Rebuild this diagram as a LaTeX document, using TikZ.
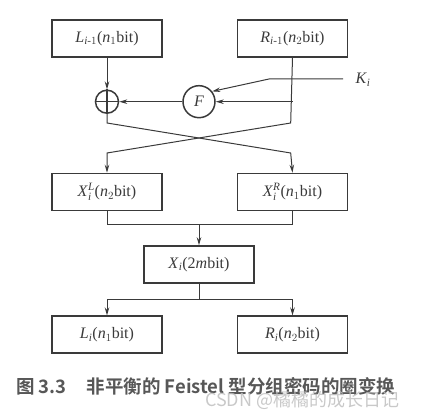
\documentclass[tikz,border=0pt]{standalone}
\usepackage{amsmath}
\usepackage{fontspec}
\setmainfont{Liberation Serif}
\newfontfamily\cjk{Noto Sans CJK SC}[BoldFont={Noto Sans CJK SC Bold}]
\usepackage{tikz}
\usetikzlibrary{arrows.meta, positioning, calc}
\definecolor{ink}{HTML}{3A3A3A}
\newcommand{\sbit}[1]{(\textit{n}$_{#1}$bit)}
\tikzstyle{blk}   = [rectangle, draw=ink, line width=1.5pt, minimum width=110pt, minimum height=37pt,
                     inner sep=0pt, text=ink, font=\fontsize{16}{19}\selectfont]
\tikzstyle{opc}   = [circle, draw=ink, line width=1.5pt, inner sep=0pt, text=ink]
\tikzstyle{arrow} = [draw=ink, line width=1pt, -{Stealth[length=8pt,width=4.5pt]}]
\tikzstyle{wire}  = [draw=ink, line width=1pt]

\begin{document}
\begin{tikzpicture}[x=1pt, y=-1pt]
  \useasboundingbox (0,0) rectangle (432,411);

  \node[blk] (Lprev) at (107,38.5) {\textit{L}$_{\textit{i}\text{-}1}$\sbit{1}};
  \node[blk, right=74pt of Lprev] (Rprev) {\textit{R}$_{\textit{i}\text{-}1}$\sbit{2}};
  \node[opc, minimum size=23pt] (xor) at (107,101.7) {};
  \draw[ink, line width=1.2pt] (xor.north) -- (xor.south) (xor.west) -- (xor.east);
  \node[opc, minimum size=32pt, font=\fontsize{16}{19}\selectfont\itshape] (F) at (199,101.7) {F};
  \node[blk] (XL) at (107,192) {\textit{X}$^{\textit{L}}_{\textit{i}}$\sbit{2}};
  \node[blk, right=74pt of XL] (XR) {\textit{X}$^{\textit{R}}_{\textit{i}}$\sbit{1}};
  \node[blk] (Xi) at (199,264.5) {\textit{X}$_{\textit{i}}$(2\textit{m}bit)};
  \node[blk] (Li) at (107,334.7) {\textit{L}$_{\textit{i}}$\sbit{1}};
  \node[blk, right=74pt of Li] (Ri) {\textit{R}$_{\textit{i}}$\sbit{2}};

  % key input
  \coordinate (kin) at (343,79);
  \node[anchor=west, text=ink, font=\fontsize{16}{19}\selectfont] (K) at (352,80) {\textit{K}$_{\textit{i}}$};
  \coordinate (kbend) at (269,79);

  % crossing points
  \coordinate (lc) at (107,123);
  \coordinate (rc) at (290.7,123);
  \coordinate (ld) at (107,153);
  \coordinate (rd) at (290.7,153);
  \coordinate (jn) at (199,224.3);
  \coordinate (sp) at (199,300);

  \draw[arrow] (Lprev.south) -- (xor.north);
  \draw[arrow] (kin) -- (kbend) -- (F.38);
  \draw[arrow] (Rprev.south |- F) -- (F.east);
  \draw[arrow] (F.west) -- (xor.east);
  \draw[arrow] (Rprev.south) -- (rc) -- (ld) -- (XL.north);
  \draw[arrow] (xor.south) -- (lc) -- (rd) -- (XR.north);

  \draw[wire] (XL.south) |- (jn) -| (XR.south);
  \draw[arrow] (jn) -- (Xi.north);
  \draw[wire] (Xi.south) -- (sp);
  \draw[arrow] (sp) -| (Li.north);
  \draw[arrow] (sp) -| (Ri.north);

  % caption and mark
  \node[anchor=west, inner sep=0pt, text=ink!85, font=\cjk\bfseries\fontsize{18.5}{22}\selectfont] (cap) at (16,386)
    {图 3.3\hspace{20pt}非平衡的 Feistel 型分组密码的圈变换};
  \node[anchor=west, inner sep=0pt, text=gray!50, opacity=0.85, font=\cjk\fontsize{18}{21}\selectfont] (mark) at (205,400)
    {CSDN @橘橘的成长日记};
\end{tikzpicture}
\end{document}
